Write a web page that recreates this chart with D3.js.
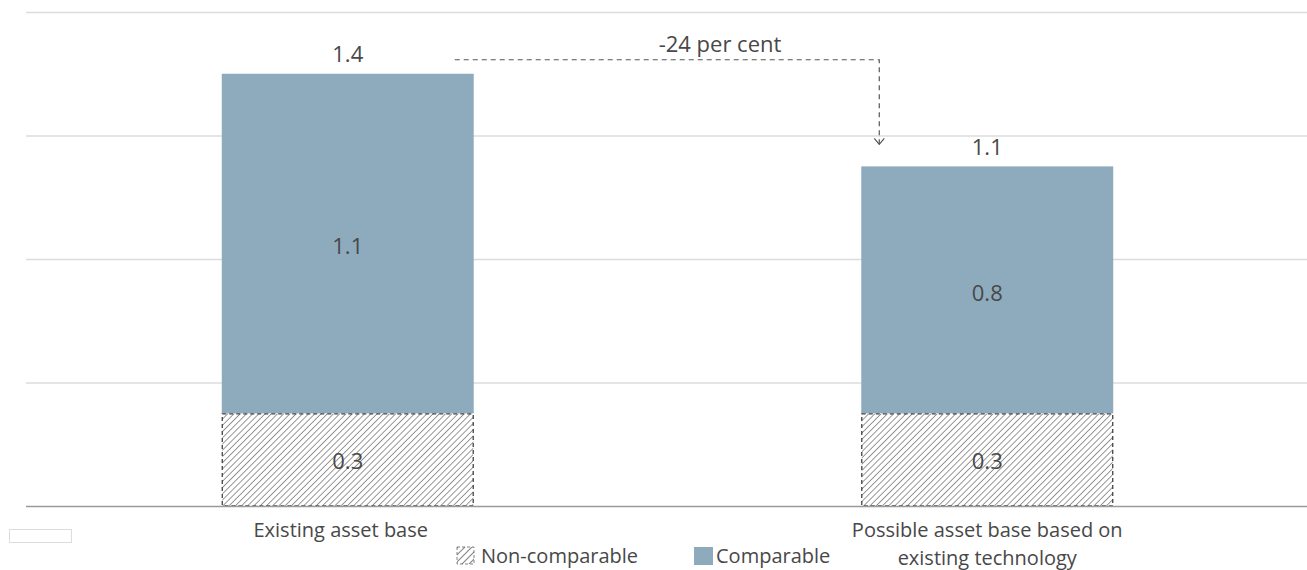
<!DOCTYPE html>
<html>
<head>
<meta charset="utf-8">
<script src="https://cdn.jsdelivr.net/npm/d3@7"></script>
<style>
  html, body { margin: 0; padding: 0; background: #fff; }
  svg { display: block; font-family: "Open Sans", "Noto Sans", sans-serif; }
</style>
</head>
<body>
<svg id="chart" width="1307" height="570"></svg>
<script>
// Asset base, stacked by comparability
const categories = ["Existing asset base", "Possible asset base based on|existing technology"];
const nonComparable = [0.3, 0.3];
const comparable = [1.1, 0.8];
const totals = [1.4, 1.1];
const yTicks = [0, 0.4, 0.8, 1.2, 1.6];
const changeLabel = "-24 per cent";
const legendLabels = ["Non-comparable", "Comparable"];

const svg = d3.select("#chart");
const plot = { left: 26, right: 1307, top: 12, bottom: 506 };

const x = d3.scaleBand()
  .domain(categories)
  .range([plot.left + 2, plot.right])
  .paddingInner(0.606)
  .paddingOuter(0.303);

const y = d3.scaleLinear().domain([0, 1.6]).range([plot.bottom, plot.top]);

const textColor = "#484848";
const barColor = "#8eabbe";
const hatchColor = "#444";

// Hatch pattern for non-comparable segment
const defs = svg.append("defs");
const pat = defs.append("pattern")
  .attr("id", "hatch")
  .attr("patternUnits", "userSpaceOnUse")
  .attr("width", 4.4).attr("height", 4.4)
  .attr("patternTransform", "rotate(45)");
pat.append("line")
  .attr("x1", 0).attr("y1", 0).attr("x2", 0).attr("y2", 4.4)
  .attr("stroke", hatchColor).attr("stroke-width", 1.1);

// Gridlines
const grid = svg.append("g")
  .attr("transform", `translate(${plot.left},0)`)
  .call(d3.axisLeft(y).tickValues(yTicks.filter(d => d > 0))
    .tickSize(-(plot.right - plot.left)).tickFormat(""));
grid.select(".domain").remove();
grid.selectAll(".tick line").attr("stroke", "#dcdcdc").attr("stroke-width", 1.5);

// Bars
const rows = categories.map((c, i) => ({ c, nc: nonComparable[i], cp: comparable[i], total: totals[i] }));
const bw = x.bandwidth();

const g = svg.append("g");
rows.forEach(r => {
  const x0 = x(r.c);
  // comparable
  g.append("rect")
    .attr("x", x0).attr("width", bw)
    .attr("y", y(r.nc + r.cp)).attr("height", y(r.nc) - y(r.nc + r.cp))
    .attr("fill", barColor);
  // non-comparable (hatched, dashed outline)
  g.append("rect")
    .attr("x", x0 + 0.5).attr("width", bw - 1)
    .attr("y", y(r.nc) + 0.5).attr("height", y(0) - y(r.nc) - 0.5)
    .attr("fill", "url(#hatch)")
    .attr("stroke", "#444").attr("stroke-width", 1.3)
    .attr("stroke-dasharray", "4,3");

  const cx = x0 + bw / 2;
  const label = (yy, txt) => g.append("text").attr("x", cx).attr("y", yy).attr("dy", "0.35em")
    .attr("text-anchor", "middle").attr("font-size", 22).attr("fill", textColor).text(txt);
  label(y(r.nc / 2) + 2, r.nc.toFixed(1));
  label(y(r.nc + r.cp / 2) + 3, r.cp.toFixed(1));
  label(y(r.total) - 19, r.total.toFixed(1));
});

// Baseline axis
const xAxis = svg.append("g")
  .attr("transform", `translate(0,${plot.bottom})`)
  .call(d3.axisBottom(x).tickSize(0).tickFormat(""));
xAxis.select(".domain").attr("stroke", "#9a9a9a").attr("stroke-width", 1.5)
  .attr("d", `M${plot.left},0.5H${plot.right}`);

// Category labels (wrapped on '|')
categories.forEach((c, ci) => {
  const lines = c.split("|");
  const cx = x(c) + bw / 2 - (ci === 0 ? 7 : 0);
  const t = svg.append("text")
    .attr("x", cx).attr("y", plot.bottom + 24)
    .attr("text-anchor", "middle").attr("font-size", 20).attr("fill", textColor);
  lines.forEach((l, i) => t.append("tspan").attr("x", cx).attr("dy", i ? 28 : "0.35em").text(l));
});

// Change annotation: dashed connector from first bar to second
const ax0 = x(categories[0]) + bw - 19;
const ax1 = x(categories[1]) + 18;
const ay = y(totals[0]) - 14;
const ayEnd = y(totals[1]) - 22;
svg.append("path")
  .attr("d", `M${ax0},${ay}H${ax1}V${ayEnd}`)
  .attr("fill", "none").attr("stroke", "#555").attr("stroke-width", 1.2)
  .attr("stroke-dasharray", "5,4");
svg.append("path")
  .attr("d", `M${ax1 - 5},${ayEnd - 6}L${ax1},${ayEnd}L${ax1 + 5},${ayEnd - 6}`)
  .attr("fill", "none").attr("stroke", "#555").attr("stroke-width", 1.2);
svg.append("text")
  .attr("x", 720).attr("y", ay - 15).attr("dy", "0.35em")
  .attr("text-anchor", "middle").attr("font-size", 22).attr("fill", textColor)
  .text(changeLabel);

// Small empty box at bottom left
svg.append("rect").attr("x", 9.5).attr("y", 529.5).attr("width", 62).attr("height", 13)
  .attr("fill", "#fff").attr("stroke", "#ddd").attr("stroke-width", 1);

// Legend
const leg = svg.append("g");
const legHatch = defs.append("pattern")
  .attr("id", "hatchLeg")
  .attr("patternUnits", "userSpaceOnUse")
  .attr("width", 5).attr("height", 5)
  .attr("patternTransform", "rotate(45)");
legHatch.append("line")
  .attr("x1", 0).attr("y1", 0).attr("x2", 0).attr("y2", 5)
  .attr("stroke", hatchColor).attr("stroke-width", 1.3);
leg.append("rect").attr("x", 457).attr("y", 547).attr("width", 17).attr("height", 17)
  .attr("fill", "url(#hatchLeg)").attr("stroke", "#666").attr("stroke-width", 0.8)
  .attr("stroke-dasharray", "3,2");
leg.append("text").attr("x", 481).attr("y", 556).attr("dy", "0.35em")
  .attr("font-size", 20).attr("fill", textColor).text(legendLabels[0]);
leg.append("rect").attr("x", 694).attr("y", 547).attr("width", 19).attr("height", 18)
  .attr("fill", barColor);
leg.append("text").attr("x", 716).attr("y", 556).attr("dy", "0.35em")
  .attr("font-size", 20).attr("fill", textColor).text(legendLabels[1]);
</script>
</body>
</html>
